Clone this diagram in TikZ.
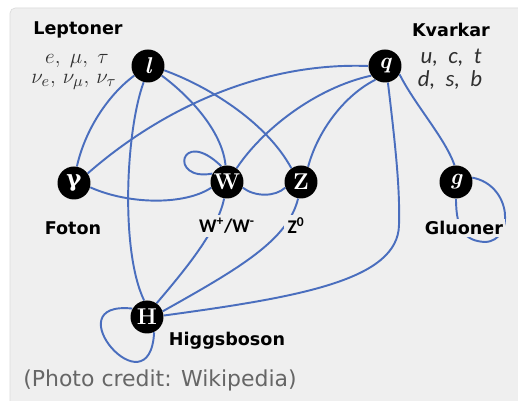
\documentclass[tikz,border=0pt]{standalone}
\usepackage{fontspec}
\newfontfamily\dvs{DejaVu Sans}
\newfontfamily\dvserif{DejaVu Serif}
\newfontfamily\carl{Carlito}
\definecolor{panelbg}{HTML}{EFEFEF}
\definecolor{panelline}{HTML}{DCDCDC}
\definecolor{edgeblue}{HTML}{4A6EBE}
\definecolor{txtgray}{HTML}{303030}
\definecolor{credgray}{HTML}{666666}
\pgfdeclarelayer{panel}
\pgfdeclarelayer{edges}
\pgfsetlayers{panel,edges,main}
\tikzset{
  particle/.style={circle,fill=black,minimum size=0.66cm,inner sep=0pt,text=white,
    font=\bfseries\fontsize{13}{13}\selectfont},
  conn/.style={draw=edgeblue,line width=1.1pt},
  head/.style={font=\dvs\bfseries\fontsize{10}{12}\selectfont,inner sep=1pt,fill=panelbg},
  head2/.style={font=\carl\bfseries\fontsize{11}{12}\selectfont,inner sep=2pt,fill=panelbg},
  lbl/.style={text=txtgray,font=\fontsize{12.5}{14}\selectfont,inner sep=1pt},
  qlbl/.style={text=txtgray,font=\carl\itshape\fontsize{13}{14}\selectfont,inner sep=1pt},
  credit/.style={text=credgray,font=\dvs\fontsize{12.5}{14}\selectfont,inner sep=1pt}
}
\begin{document}
\begin{tikzpicture}[x=0.02cm,y=-0.02cm]
\useasboundingbox (0,0) rectangle (518,401);
\begin{pgfonlayer}{panel}
  \fill[white] (0,0) rectangle (518,401);
  \draw[panelline,fill=panelbg,rounded corners=3pt] (10,8) rectangle (530,410);
\end{pgfonlayer}

% particles
\node[particle] (l) at (148,66) {\itshape l};
\node[particle] (q) at (385,66) {\itshape q};
\node[particle] (gam) at (74,183) {\dvserif\bfseries γ};
\node[particle] (W) at (227,182) {W};
\node[particle] (Z) at (301,182) {Z};
\node[particle] (g) at (456,182) {\itshape g};
\node[particle] (H) at (147,317) {H};

% labels
\node[head] (lep) at (78,30) {Leptoner};
\node[lbl] (lepA) at (77,61) {$e,\;\mu,\;\tau$};
\node[lbl] (lepB) at (74,82) {$\nu_e,\,\nu_\mu,\,\nu_\tau$};
\node[head] (kv) at (451,30) {Kvarkar};
\node[qlbl] (kvA) at (451,58) {u,\ \ c,\ \ t};
\node[qlbl] (kvB) at (450,80) {d,\ \ s,\ \ b};
\node[head] (fot) at (73,228) {Foton};
\node[head2] (wlab) at (227,226) {W\textsuperscript{+}/W\textsuperscript{-}};
\node[head2] (zlab) at (296,226) {Z\textsuperscript{0}};
\node[head] (glu) at (464,228) {Gluoner};
\node[head] (hig) at (227,341) {Higgsboson};
\node[credit] (cred) at (160,380) {(Photo credit: Wikipedia)};

\begin{pgfonlayer}{edges}
  % lepton connections
  \draw[conn] (l.215) .. controls (108,95) and (85,130) .. (gam.80);
  \draw[conn] (l.-105) .. controls (126,130) and (120,250) .. (H.100);
  \draw[conn] (l.-35) .. controls (188,95) and (222,130) .. (W.95);
  \draw[conn] (l.-15) .. controls (205,85) and (265,120) .. (Z.125);
  % photon
  \draw[conn] (gam.35) .. controls (160,110) and (260,62) .. (q.180);
  \draw[conn] (gam.-15) .. controls (130,205) and (185,205) .. (W.200);
  % W
  \draw[conn] (W.150) .. controls (168,182) and (180,126) .. (W.110);
  \draw[conn] (W.-20) .. controls (255,197) and (275,197) .. (Z.200);
  \draw[conn] (W.55) .. controls (262,130) and (315,88) .. (q.215);
  \draw[conn] (W.-100) .. controls (218,230) and (185,270) .. (H.55);
  % Z
  \draw[conn] (Z.65) .. controls (318,130) and (345,95) .. (q.235);
  \draw[conn] (Z.-100) .. controls (288,240) and (240,268) .. (H.20);
  % quark
  \draw[conn] (q.-80) .. controls (396,150) and (400,190) .. (399,225)
     .. controls (398,280) and (300,297) .. (H.5);
  \draw[conn] (q.-30) .. controls (415,105) and (445,138) .. (g.95);
  % gluon loop
  \draw[conn] (g.-90) .. controls (456,230) and (465,241) .. (485,242)
     .. controls (515,241) and (512,185) .. (g.15);
  % Higgs loop
  \draw[conn] (H.150) .. controls (52,300) and (150,414) .. (H.-65);
\end{pgfonlayer}
\end{tikzpicture}
\end{document}
